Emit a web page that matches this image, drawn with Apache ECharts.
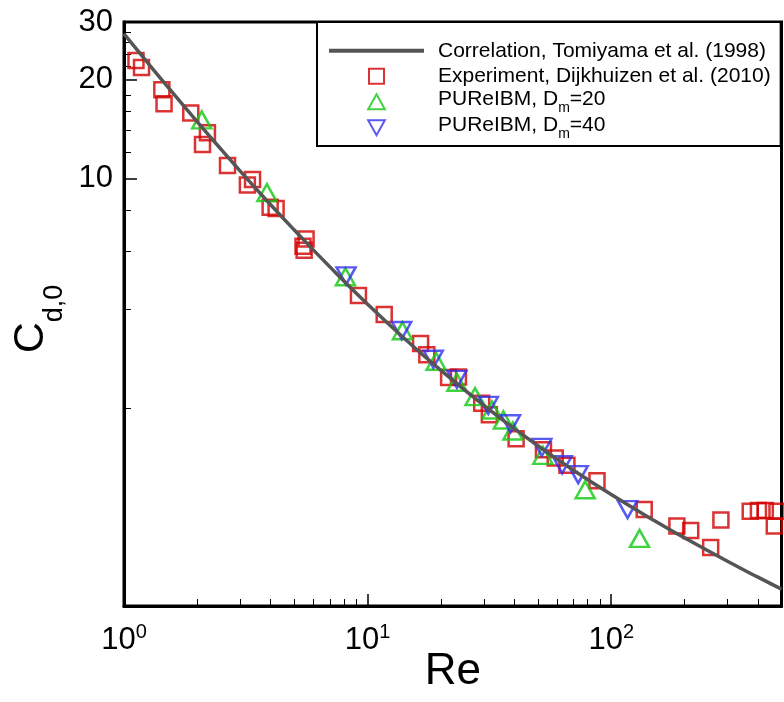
<!DOCTYPE html>
<html>
<head>
<meta charset="utf-8">
<script src="https://cdn.jsdelivr.net/npm/echarts@6/dist/echarts.min.js"></script>
<style>
  html, body { margin: 0; padding: 0; background: #fff; }
  #chart { width: 784px; height: 702px; }
</style>
</head>
<body>
<div id="chart"></div>
<script>
// correlation curve
const reCorr = [1, 1.2, 1.5, 2, 2.5, 3, 4, 5, 7, 10, 15, 20, 30, 40, 50, 70, 100, 150, 200, 300, 400, 500];
const cdCorr = [27.6, 23.4, 19.17, 14.9, 12.3, 10.55, 8.33, 6.98, 5.39, 4.15, 3.14, 2.61, 2.04, 1.735, 1.538, 1.295, 1.092, 0.91, 0.806, 0.684, 0.612, 0.563];

// experiment (red squares)
const reExp = [1.12, 1.18, 1.43, 1.46, 1.88, 2.2, 2.1, 2.66, 3.37, 3.21, 3.98, 4.21, 5.59, 5.43, 5.49,
  9.17, 11.7, 16.5, 17.5, 21.5, 23.6, 29.4, 31.6, 40.7, 52.7, 58.9, 65.8, 87.4, 136.6,
  186, 212, 256, 282, 372, 402, 429, 479, 467];
const cdExp = [22.9, 21.8, 18.65, 16.9, 15.85, 13.8, 12.7, 10.97, 9.95, 9.56, 8.18, 8.11, 6.55, 6.23, 6.06,
  4.41, 3.86, 3.15, 2.91, 2.48, 2.49, 2.07, 1.91, 1.614, 1.495, 1.411, 1.341, 1.204, 0.983,
  0.876, 0.849, 0.753, 0.913, 0.972, 0.976, 0.976, 0.972, 0.876];

// PUReIBM, Dm=20 (green up triangles)
const reDm20 = [2.085, 3.86, 8.11, 13.9, 19.1, 23.25, 27.6, 32.4, 36.1, 39.5, 52.4, 78.2, 130.7];
const cdDm20 = [15.1, 9.07, 5.03, 3.445, 2.78, 2.4, 2.17, 1.976, 1.842, 1.706, 1.438, 1.13, 0.803];

// PUReIBM, Dm=40 (blue down triangles)
const reDm40 = [8.16, 13.8, 18.6, 23.25, 31.3, 38.6, 51.9, 62.9, 73.2, 116.7];
const cdDm40 = [5.06, 3.45, 2.82, 2.45, 2.04, 1.794, 1.52, 1.346, 1.256, 0.983];

// ticks
const xMajorTicks = [1, 10, 100];
const xMinorTicks = [2, 3, 4, 5, 6, 7, 8, 9, 20, 30, 40, 50, 60, 70, 80, 90, 200, 300, 400];
const yMajorTicks = [10, 20, 30];
const yMinorTicks = [2, 4, 6, 8, 12, 14, 16, 18, 22, 24, 26, 28];

const zip = (xs, ys) => xs.map((x, i) => [x, ys[i]]);
const font = 'Liberation Sans, Arial, sans-serif';

// legend icons (paths keep their aspect, built-in symbols get stretched)
const iconSquare = 'path://M0,0 L10,0 L10,10 L0,10 Z';
const iconUp = 'path://M5,0 L10,9 L0,9 Z';
const iconDown = 'path://M0,0 L10,0 L5,9 Z';

const chart = echarts.init(document.getElementById('chart'));

const logX = { type: 'log', logBase: 10, min: 1, max: 500, position: 'bottom', splitLine: { show: false } };
const logY = { type: 'log', logBase: 10, min: 0.5, max: 30, position: 'left', splitLine: { show: false } };

const option = {
  animation: false,
  grid: {
    left: 124, top: 22, width: 657.5, height: 584,
    outerBoundsMode: 'none',
    show: true, borderColor: '#000', borderWidth: 3
  },
  legend: {
    left: 317, top: 22,
    orient: 'vertical',
    itemWidth: 95, itemHeight: 15, itemGap: 0,
    padding: [16, 10, 5, 10],
    borderColor: '#000', borderWidth: 2,
    backgroundColor: '#fff',
    textStyle: {
      fontFamily: font, fontSize: 21, color: '#000', lineHeight: 25.5, padding: [0, 0, 0, 9],
      rich: {
        t: { fontFamily: font, fontSize: 21, color: '#000', lineHeight: 25.5, verticalAlign: 'top' },
        s: { fontFamily: font, fontSize: 14, color: '#000', lineHeight: 13, padding: [12, 0, 0, 0], verticalAlign: 'top' }
      }
    },
    formatter: function (name) {
      let m = name.match(/^(PUReIBM, D)m(=\d+)$/);
      if (m) return '{t|' + m[1] + '}{s|m}{t|' + m[2] + '}';
      return name;
    },
    data: [
      { name: 'Correlation, Tomiyama et al. (1998)', itemStyle: { opacity: 0 }, lineStyle: { width: 4, color: '#555' } },
      { name: 'Experiment, Dijkhuizen et al. (2010)', icon: iconSquare },
      { name: 'PUReIBM, Dm=20', icon: iconUp },
      { name: 'PUReIBM, Dm=40', icon: iconDown }
    ]
  },
  xAxis: [
    Object.assign({}, logX, {
      axisLine: { show: true, lineStyle: { color: '#000', width: 3 } },
      axisTick: { show: true, inside: true, length: 12, customValues: xMajorTicks, lineStyle: { color: '#000', width: 1.5 } },
      axisLabel: {
        customValues: xMajorTicks, margin: 16,
        formatter: v => '{b|10}{sup|' + Math.round(Math.log10(v)) + '}',
        rich: {
          b: { fontFamily: font, fontSize: 31, color: '#000', lineHeight: 36 },
          sup: { fontFamily: font, fontSize: 20, color: '#000', lineHeight: 20, verticalAlign: 'top' }
        }
      },
      name: 'Re', nameLocation: 'middle', nameGap: 44, nameMoveOverlap: false,
      nameTextStyle: { fontFamily: font, fontSize: 44, color: '#000' }
    }),
    Object.assign({}, logX, {
      axisLine: { show: false },
      axisTick: { show: true, inside: true, length: 7, customValues: xMinorTicks, lineStyle: { color: '#000', width: 1 } },
      axisLabel: { show: false }
    })
  ],
  yAxis: [
    Object.assign({}, logY, {
      axisLine: { show: true, lineStyle: { color: '#000', width: 3 } },
      axisTick: { show: true, inside: true, length: 13, customValues: yMajorTicks, lineStyle: { color: '#000', width: 1.5 } },
      axisLabel: {
        customValues: yMajorTicks, margin: 11,
        fontFamily: font, fontSize: 31, color: '#000'
      },
      name: '{c|C}{s|d,0}', nameLocation: 'middle', nameGap: 70, nameRotate: 90, nameMoveOverlap: false,
      nameTextStyle: {
        padding: [0, 10, 0, 0],
        rich: {
          c: { fontFamily: font, fontSize: 43, color: '#000', lineHeight: 44, verticalAlign: 'top' },
          s: { fontFamily: font, fontSize: 27, color: '#000', lineHeight: 27, padding: [31, 0, 0, 0], verticalAlign: 'top' }
        }
      }
    }),
    Object.assign({}, logY, {
      axisLine: { show: false },
      axisTick: { show: true, inside: true, length: 7, customValues: yMinorTicks, lineStyle: { color: '#000', width: 1 } },
      axisLabel: { show: false }
    })
  ],
  series: [
    {
      name: 'Correlation, Tomiyama et al. (1998)',
      type: 'line', data: zip(reCorr, cdCorr), smooth: true,
      symbol: 'none', lineStyle: { color: '#555', width: 3.5 }, itemStyle: { color: '#555' }
    },
    {
      name: 'Experiment, Dijkhuizen et al. (2010)',
      type: 'scatter', data: zip(reExp, cdExp),
      symbol: 'rect', symbolSize: 15,
      itemStyle: { color: 'transparent', borderColor: '#d20000', borderWidth: 2.5 }
    },
    {
      name: 'PUReIBM, Dm=20',
      type: 'scatter', data: zip(reDm20, cdDm20),
      symbol: 'triangle', symbolSize: [19, 17],
      itemStyle: { color: 'transparent', borderColor: '#10c810', borderWidth: 2.5 }
    },
    {
      name: 'PUReIBM, Dm=40',
      type: 'scatter', data: zip(reDm40, cdDm40),
      symbol: 'triangle', symbolSize: [19, 17], symbolRotate: 180,
      itemStyle: { color: 'transparent', borderColor: '#3030f0', borderWidth: 2.5 }
    }
  ]
};

chart.setOption(option);
</script>
</body>
</html>
